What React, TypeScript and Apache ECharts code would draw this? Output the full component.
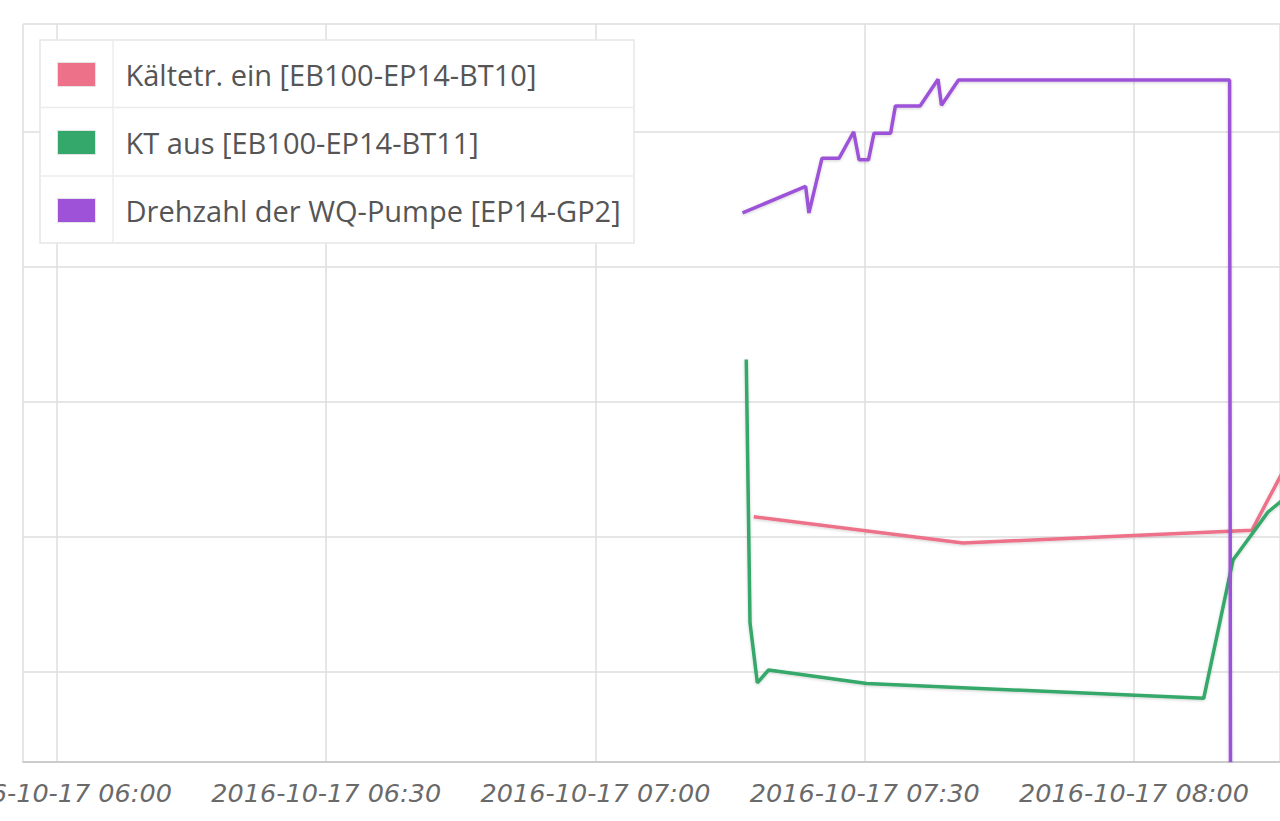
import React, { useEffect, useRef } from "react";
import * as echarts from "echarts";

const DATE = "2016-10-17";
const seriesNames = [
  "Kältetr. ein [EB100-EP14-BT10]",
  "KT aus [EB100-EP14-BT11]",
  "Drehzahl der WQ-Pumpe [EP14-GP2]",
];
const colors = ["#ec7189", "#34a86b", "#9d52d8"];

// Kältetr. ein (°C)
const redTimes = ["07:17:38", "07:40:57", "08:13:08", "08:17:23"];
const redValues = [2.3, 1.91, 2.1, 3.17];

// KT aus (°C)
const greenTimes = ["07:16:48", "07:17:13", "07:18:02", "07:19:17", "07:30:13", "08:07:46", "08:11:02", "08:14:56", "08:17:56"];
const greenValues = [4.63, 0.73, -0.16, 0.03, -0.17, -0.39, 1.66, 2.37, 2.7];

// Drehzahl der WQ-Pumpe (%)
const purpleTimes = [
  "07:16:23", "07:23:25", "07:23:47", "07:25:14", "07:27:08", "07:28:46", "07:29:22", "07:30:25",
  "07:31:02", "07:32:53", "07:33:25", "07:36:10", "07:38:10", "07:38:33", "07:40:27", "08:10:39", "08:10:45",
];
const purpleValues = [74.4, 78.0, 74.4, 81.8, 81.8, 85.4, 81.6, 81.6, 85.2, 85.2, 88.9, 88.9, 92.5, 89.0, 92.4, 92.4, 0];

// axis extents
const xStart = "05:56:13";
const xEnd = "08:16:16";
const tempMin = -1.3333;
const tempMax = 9.6;
const pumpMin = 0;
const pumpMax = 100;

const toMin = (s: string) => {
  const [h, m, sec] = s.split(":").map(Number);
  return (h * 3600 + m * 60 + (sec || 0) - 6 * 3600) / 60;
};
const pad = (n: number) => String(n).padStart(2, "0");
const fmt = (v: number) => {
  const total = Math.round(v) + 6 * 60;
  return `${DATE} ${pad(Math.floor(total / 60))}:${pad(total % 60)}`;
};
const pairs = (t: string[], v: number[]) => t.map((x, i) => [toMin(x), v[i]]);

export default function App() {
  const ref = useRef<HTMLDivElement>(null);
  useEffect(() => {
    if (!ref.current) return;
    const chart = echarts.init(ref.current, null, { renderer: "svg" });
    const lineShadow = { shadowColor: "rgba(0,0,0,0.18)", shadowBlur: 3, shadowOffsetY: 1 };
    chart.setOption({
      animation: false,
      backgroundColor: "#fff",
      grid: { left: 23, right: 0, top: 24, bottom: 59, containLabel: false, outerBoundsMode: "none" },
      xAxis: {
        type: "value",
        min: toMin(xStart),
        max: toMin(xEnd),
        splitNumber: 5,
        axisLine: { show: true, onZero: false, lineStyle: { color: "#cccccc", width: 2 } },
        axisTick: { show: false },
        splitLine: { show: true, lineStyle: { color: "#dedede", width: 1.5 } },
        axisLabel: {
          showMinLabel: false,
          showMaxLabel: false,
          hideOverlap: false,
          formatter: (v: number) => fmt(v),
          fontFamily: "DejaVu Sans",
          fontStyle: "italic",
          fontSize: 25.5,
          color: "#6a6a6a",
          margin: 18,
        },
      },
      yAxis: [
        {
          type: "value",
          min: tempMin,
          max: tempMax,
          splitNumber: 5,
          axisLine: { show: false },
          axisTick: { show: false },
          axisLabel: { show: false },
          splitLine: { show: true, lineStyle: { color: "#dedede", width: 1.5 } },
        },
        { type: "value", min: pumpMin, max: pumpMax, show: false, splitLine: { show: false } },
      ],
      legend: {
        orient: "vertical",
        left: 57,
        top: 60,
        padding: 0,
        z: 10,
        selectedMode: false,
        icon: "rect",
        itemWidth: 38,
        itemHeight: 24,
        itemGap: 39,
        data: seriesNames,
        itemStyle: { borderColor: "#e4e4e4", borderWidth: 1 },
        textStyle: {
          fontFamily: "Open Sans",
          fontSize: 29,
          lineHeight: 24,
          color: "#555",
          padding: [0, 0, 0, 25],
        },
      },
      graphic: [
        {
          type: "rect",
          z: 3,
          shape: { x: 40, y: 40, width: 594, height: 203 },
          style: { fill: "#fff", stroke: "#e6e6e6", lineWidth: 1.5 },
        },
        { type: "line", z: 3, z2: 2, shape: { x1: 40, y1: 107.5, x2: 634, y2: 107.5 }, style: { stroke: "#ececec", lineWidth: 1.5 } },
        { type: "line", z: 3, z2: 2, shape: { x1: 40, y1: 176, x2: 634, y2: 176 }, style: { stroke: "#ececec", lineWidth: 1.5 } },
        { type: "line", z: 3, z2: 2, shape: { x1: 113, y1: 40, x2: 113, y2: 243 }, style: { stroke: "#ececec", lineWidth: 1.5 } },
      ],
      series: [
        {
          name: seriesNames[0],
          type: "line",
          showSymbol: false,
          symbol: "none",
          data: pairs(redTimes, redValues),
          itemStyle: { color: colors[0] },
          lineStyle: { color: colors[0], width: 3.5, ...lineShadow },
        },
        {
          name: seriesNames[1],
          type: "line",
          showSymbol: false,
          symbol: "none",
          data: pairs(greenTimes, greenValues),
          itemStyle: { color: colors[1] },
          lineStyle: { color: colors[1], width: 3.5, ...lineShadow },
        },
        {
          name: seriesNames[2],
          type: "line",
          yAxisIndex: 1,
          showSymbol: false,
          symbol: "none",
          data: pairs(purpleTimes, purpleValues),
          itemStyle: { color: colors[2] },
          lineStyle: { color: colors[2], width: 3.5, ...lineShadow },
        },
      ],
    });
    return () => chart.dispose();
  }, []);
  return (
    <div
      ref={ref}
      style={{ position: "fixed", left: 0, top: 0, width: 1280, height: 821, background: "#fff" }}
    />
  );
}
